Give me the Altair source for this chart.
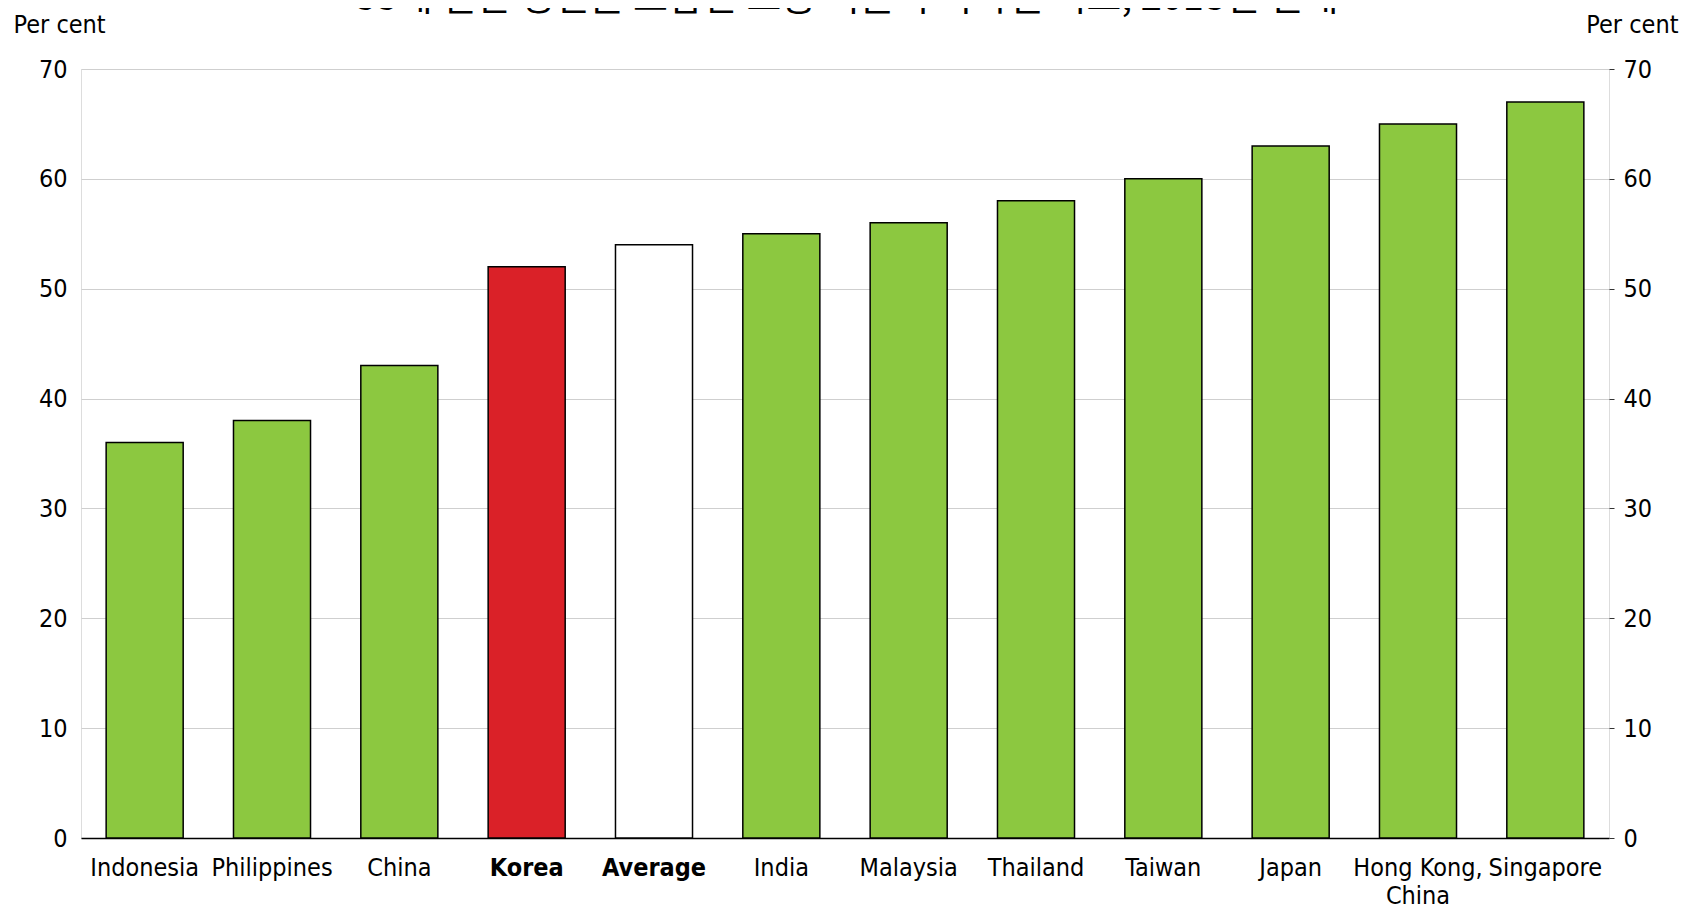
import altair as alt
import pandas as pd

categories = ["Indonesia", "Philippines", "China", "Korea", "Average", "India",
              "Malaysia", "Thailand", "Taiwan", "Japan", "Hong Kong, China", "Singapore"]
values = [36, 38, 43, 52, 54, 55, 56, 58, 60, 63, 65, 67]
groups = ["other", "other", "other", "korea", "average", "other",
          "other", "other", "other", "other", "other", "other"]
title_text = "55세 일반 성인을 포함한 고용 비율의 국가별 비교, 2018년 현재"

df = pd.DataFrame({"country": categories, "value": values, "group": groups})

FONT = "DejaVu Sans Condensed"
FS = 25

xscale = alt.Scale(paddingInner=0.395, paddingOuter=0.1975)
xaxis = alt.Axis(
    title=None, labelAngle=0, labelFont=FONT, labelFontSize=FS,
    labelColor="black", labelPadding=17, ticks=False,
    domainColor="black", domainWidth=1.5,
    labelExpr="datum.label == 'Hong Kong, China' ? ['Hong Kong,', 'China'] : datum.label",
    labelFontWeight={"condition": {"test": "datum.value == 'Korea' || datum.value == 'Average'",
                                   "value": "bold"}, "value": "normal"},
    labelLineHeight=28,
)

yscale = alt.Scale(domain=[0, 70], nice=False)

bars = alt.Chart(df).mark_bar(stroke="black", strokeWidth=1.5).encode(
    x=alt.X("country:N", sort=categories, scale=xscale, axis=xaxis),
    y=alt.Y("value:Q", scale=yscale,
            axis=alt.Axis(values=list(range(0, 80, 10)), title="Per cent",
                          titleAngle=0, titleFont=FONT, titleFontSize=FS,
                          titleFontWeight="normal", titleColor="black",
                          titleAlign="left", titleBaseline="middle",
                          titleX=-68, titleY=-45,
                          labelFont=FONT, labelFontSize=FS, labelColor="black",
                          labelPadding=14, ticks=False, domain=False,
                          grid=True, gridColor="#cfcfcf", gridWidth=1)),
    color=alt.Color("group:N",
                    scale=alt.Scale(domain=["other", "korea", "average"],
                                    range=["#8cc840", "#da2128", "#ffffff"]),
                    legend=None),
)

right = alt.Chart(df).mark_bar(opacity=0).encode(
    x=alt.X("country:N", sort=categories, scale=xscale, axis=xaxis),
    y=alt.Y("value:Q", scale=yscale,
            axis=alt.Axis(values=list(range(0, 80, 10)), orient="right", title="Per cent",
                          titleAngle=0, titleFont=FONT, titleFontSize=FS,
                          titleFontWeight="normal", titleColor="black",
                          titleAlign="right", titleBaseline="middle",
                          titleX=69, titleY=-45,
                          labelFont=FONT, labelFontSize=FS, labelColor="black",
                          labelPadding=9, ticks=True, tickSize=5, tickColor="#333333",
                          domain=False, grid=False)),
)

title = alt.Chart(pd.DataFrame({"t": [title_text]})).mark_text(
    font="Noto Sans CJK KR", fontSize=38, color="black", baseline="alphabetic", align="center"
).encode(text="t:N", x=alt.value(766), y=alt.value(-59))

chart = alt.layer(bars, right, title).resolve_scale(y="independent").properties(
    width=1528, height=769,
    padding={"left": 73, "top": 61, "right": 83, "bottom": 73},
    autosize=alt.AutoSizeParams(type="none"),
).configure_view(stroke=None).configure(background="white")

chart.save("out.html", embed_options={"renderer": "svg", "actions": False})
